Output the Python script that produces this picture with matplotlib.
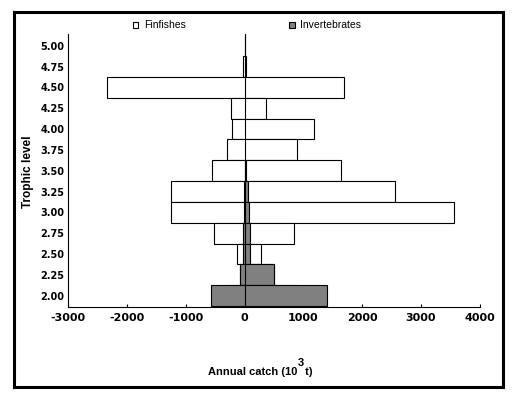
import numpy as np
import matplotlib
matplotlib.use("Agg")
import matplotlib.pyplot as plt
import matplotlib.patches as mpatches

plt.rcParams["axes.unicode_minus"] = False

# trophic levels and catch extents (10^3 t), left extent shown as negative side
levels = [5.00, 4.75, 4.50, 4.25, 4.00, 3.75, 3.50, 3.25, 3.00, 2.75, 2.50, 2.25, 2.00]
fin_left = [0, 20, 2350, 238, 221, 306, 561, 1259, 1259, 527, 136, 80, 300]
fin_right = [0, 20, 1690, 372, 1173, 884, 1648, 2551, 3571, 833, 272, 500, 900]
inv_left = [0, 0, 0, 0, 0, 0, 0, 10, 10, 34, 34, 85, 578]
inv_right = [0, 0, 0, 0, 0, 0, 25, 65, 68, 85, 85, 505, 1401]

W, H = 512, 399
GRAY = "#808080"

def fx(px):
    return px / W

def fy(py):
    return 1 - py / H

fig = plt.figure(figsize=(W / 100, H / 100), dpi=100)
fig.patch.set_facecolor("white")

ax = fig.add_axes([fx(68.3), fy(306.7), fx(479.7) - fx(68.3), fy(34) - fy(306.7)])

lv = np.array(levels)
fl, fr = np.array(fin_left), np.array(fin_right)
il, ir = np.array(inv_left), np.array(inv_right)

ax.barh(lv, fl + fr, left=-fl, height=0.25, color="white", edgecolor="black", lw=0.8, zorder=2)
mask = (il + ir) > 0
ax.barh(lv[mask], (il + ir)[mask], left=-il[mask], height=0.25, color=GRAY,
        edgecolor="black", lw=0.8, zorder=3)
ax.axvline(0, color="black", lw=0.8, zorder=5)

ax.set_xlim(-3000, 4000)
ax.set_ylim(1.868, 5.14)
ax.set_xticks(np.arange(-3000, 4001, 1000))
ax.set_yticks(np.arange(2.0, 5.01, 0.25))
ax.set_yticklabels([f"{v:.2f}" for v in np.arange(2.0, 5.01, 0.25)])

ax.spines[["top", "right"]].set_visible(False)
for s in ["left", "bottom"]:
    ax.spines[s].set_linewidth(0.8)
ax.tick_params(axis="x", direction="in", length=2, width=0.8, pad=4.5)
ax.tick_params(axis="y", length=0, pad=3)
for t in ax.get_xticklabels():
    t.set_fontfamily("DejaVu Sans")
    t.set_fontweight("bold")
    t.set_fontsize(8)
for t in ax.get_yticklabels():
    t.set_fontfamily("DejaVu Sans")
    t.set_fontweight("bold")
    t.set_fontsize(7)

# axis titles
fig.text(fx(28), fy(172), "Trophic level", rotation=90, ha="center", va="center",
         fontsize=8.5, fontweight="bold", family="Liberation Sans")
fig.text(fx(297.3), fy(375), "Annual catch (10", ha="right", va="baseline",
         fontsize=8, fontweight="bold", family="Liberation Sans")
fig.text(fx(297.3), fy(366), "3", ha="left", va="baseline",
         fontsize=8, fontweight="bold", family="Liberation Sans")
fig.text(fx(302), fy(375), " t)", ha="left", va="baseline",
         fontsize=8, fontweight="bold", family="Liberation Sans")

# legend
for x0, col, lab in [(132.7, "white", "Finfishes"), (289, GRAY, "Invertebrates")]:
    fig.add_artist(mpatches.Rectangle((fx(x0), fy(27.5)), fx(5.5), fy(21.5) - fy(27.5),
                                      transform=fig.transFigure, facecolor=col,
                                      edgecolor="black", lw=0.8))
    fig.text(fx(x0 + 11), fy(24.5), lab, ha="left", va="center", fontsize=7.5,
             family="Liberation Sans")

# outer border
fig.add_artist(mpatches.Rectangle((fx(13.7), fy(387)), fx(502.5) - fx(13.7), fy(11.7) - fy(387),
                                  transform=fig.transFigure, fill=False,
                                  edgecolor="black", lw=2.2))

fig.savefig("out.png", dpi=100, facecolor="white")
